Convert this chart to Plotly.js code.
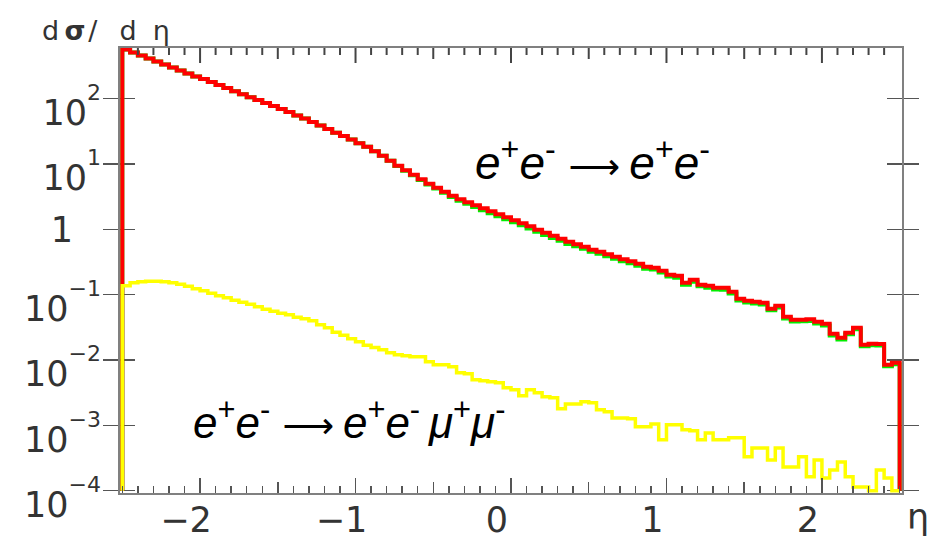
<!DOCTYPE html>
<html><head><meta charset="utf-8">
<script src="https://cdn.plot.ly/plotly-3.0.1.min.js"></script>
<style>html,body{margin:0;padding:0;background:#fff}#chart{width:931px;height:539px}</style>
</head><body><div id="chart"></div>
<script>
// ---- data (histograms of d sigma / d eta, 100 bins from -2.5 to 2.5) ----
const etaMin = -2.5;
const etaMax = 2.5;
const nBins = 100;
const histFloor = 1e-4;

// e+e- -> e+e- (red)
const eeRed = [562,506,455,410,369,332,299,269,242,217,
199,179,161,145,130,117,105,94.8,85.3,76.7,
69.0,62.1,55.0,49.4,43.7,38.6,34.1,30.1,26.7,23.6,
20.8,18.4,15.7,13.4,11.2,9.42,8.04,6.86,5.85,4.99,
4.34,3.77,3.27,2.89,2.60,2.34,2.10,1.89,1.70,1.53,
1.38,1.24,1.11,0.986,0.887,0.798,0.718,0.646,0.592,0.542,
0.488,0.454,0.416,0.381,0.348,0.325,0.297,0.267,0.258,0.232,
0.202,0.195,0.152,0.169,0.142,0.137,0.128,0.128,0.111,0.0865,
0.0807,0.0778,0.0752,0.0608,0.0676,0.0459,0.0413,0.0413,0.0420,0.0385,
0.0358,0.0252,0.0219,0.0261,0.0311,0.0171,0.0177,0.0175,0.00843,0.00906];

// e+e- -> e+e- (green)
const eeGreen = [562,506,455,410,369,332,299,269,242,217,
199,179,161,145,130,117,105,94.8,85.3,76.7,
69.0,62.1,55.0,49.4,43.7,38.6,34.1,30.1,26.7,23.6,
20.8,18.4,15.7,13.4,11.2,9.30,7.90,6.70,5.70,4.85,
4.20,3.62,3.12,2.74,2.45,2.19,1.96,1.76,1.58,1.42,
1.28,1.15,1.03,0.915,0.820,0.738,0.665,0.598,0.548,0.502,
0.452,0.421,0.386,0.353,0.323,0.302,0.276,0.250,0.242,0.218,
0.190,0.182,0.142,0.158,0.134,0.128,0.120,0.119,0.104,0.0815,
0.0760,0.0735,0.0705,0.0575,0.0635,0.0432,0.0388,0.0390,0.0395,0.0362,
0.0338,0.0238,0.0206,0.0248,0.0295,0.0162,0.0168,0.0166,0.0080,0.0086];

// e+e- -> e+e- mu+mu- (yellow)
const eeMuMu = [0.137,0.152,0.158,0.160,0.160,0.158,0.152,0.144,0.135,0.123,
0.115,0.105,0.0962,0.0897,0.0821,0.0766,0.0713,0.0653,0.0597,0.0557,
0.0519,0.0492,0.0451,0.0428,0.0398,0.0346,0.0311,0.0265,0.0239,0.0211,
0.0190,0.0168,0.0156,0.0143,0.0129,0.0120,0.0116,0.0112,0.0112,0.00938,
0.00843,0.00843,0.00787,0.00637,0.00615,0.00498,0.00480,0.00463,0.00448,0.00375,
0.00350,0.00283,0.00350,0.00315,0.00273,0.00264,0.00179,0.00213,0.00213,0.00229,
0.00221,0.00173,0.00161,0.00130,0.00130,0.00126,0.000948,0.000948,0.00105,0.000600,
0.00102,0.00102,0.000853,0.000824,0.000600,0.000767,0.000600,0.000600,0.000644,0.000644,
0.000330,0.000452,0.000452,0.000296,0.000452,0.000231,0.000231,0.000330,0.000163,0.000296,
0.000157,0.000208,0.000276,0.000163,0.000114,0.000114,0.0001,0.000208,0.000157,0.0001];

const sup = s => "10<sup><sup><span style='font-size:22px'>" + s + "</span></sup></sup>";
const yTickVals = [1e-4, 1e-3, 1e-2, 1e-1, 1, 10, 100];
const yTickText = [sup("−4"), sup("−3"), sup("−2"), sup("−1"), "", sup("1"), sup("2")];
const yUnitTick = [1];
const yUnitText = ["1"];
const xMajorTicks = [-2, -1, 0, 1, 2];
const xHalfTicks = [-1.5, -0.5, 0.5, 1.5];

// ---- build step outlines ----
const binW = (etaMax - etaMin) / nBins;
const edges = [];
for (let i = 0; i <= nBins; i++) edges.push(etaMin + i * binW);
function outline(vals) {
  const xs = [edges[0]], ys = [histFloor];
  for (let i = 0; i < vals.length; i++) { xs.push(edges[i]); ys.push(vals[i]); }
  xs.push(edges[nBins]); ys.push(vals[vals.length - 1]);
  xs.push(edges[nBins]); ys.push(histFloor);
  return {xs, ys};
}
const g = outline(eeGreen), r = outline(eeRed), yl = outline(eeMuMu);

const traces = [
  {x: g.xs, y: g.ys, mode: 'lines', line: {shape: 'hv', color: '#00ee00', width: 4}, hoverinfo: 'skip'},
  {x: r.xs, y: r.ys, mode: 'lines', line: {shape: 'hv', color: '#ff0000', width: 4}, hoverinfo: 'skip'},
  {x: yl.xs, y: yl.ys, mode: 'lines', line: {shape: 'hv', color: '#ffff00', width: 3.5}, hoverinfo: 'skip'},
  {x: [], y: [], xaxis: 'x2', yaxis: 'y', mode: 'lines'},
  {x: [], y: [], xaxis: 'x', yaxis: 'y2', mode: 'lines'}
];

const tickFont = {family: 'DejaVu Sans', size: 35, color: '#333'};
const xr = [-2.515, 2.515];
const yr = [-4.035, 2.774];
const tickCol = '#555';
const plotH = 539 - 48 - 46;

// top-edge tick marks (mirror of the bottom axis ticks)
const topTicks = [];
function addTop(v, len) {
  topTicks.push({type: 'line', xref: 'x', yref: 'paper', x0: v, x1: v, y0: 1, y1: 1 - len / plotH,
                 line: {color: '#444', width: 2}, layer: 'above'});
}
for (let k = 0; k <= 50; k++) {
  const v = Math.round((etaMin + 0.1 * k) * 10) / 10;
  if (Math.abs(v * 2 - Math.round(v * 2)) > 1e-9) addTop(v, 7);
}
xHalfTicks.forEach(v => addTop(v, 11));
xMajorTicks.forEach(v => addTop(v, 15));

const arrow = "<span style='font-family:DejaVu Sans;font-size:36px'>⟶</span>";
const layout = {
  width: 931, height: 539,
  margin: {l: 120, r: 29, t: 48, b: 46},
  paper_bgcolor: '#fff', plot_bgcolor: '#fff',
  showlegend: false,
  font: {family: 'DejaVu Sans', color: '#333'},
  xaxis: {
    range: xr, showgrid: false, zeroline: false,
    showline: true, linecolor: '#808080', linewidth: 2, mirror: true,
    ticks: 'inside', ticklen: 15, tickwidth: 1.5, tickcolor: tickCol,
    tick0: 0, dtick: 1,
    minor: {tick0: 0, dtick: 0.1, ticks: 'inside', ticklen: 7, tickwidth: 1.5, tickcolor: tickCol, showgrid: false},
    tickfont: tickFont, ticklabelshift: -14, ticklabelstandoff: -5, layer: 'above traces'
  },
  xaxis2: {
    overlaying: 'x', anchor: 'y', side: 'bottom', range: xr, showgrid: false, zeroline: false, showline: false,
    tickmode: 'array', tickvals: xHalfTicks, ticks: 'inside', ticklen: 11, tickwidth: 1.5, tickcolor: tickCol,
    showticklabels: false, layer: 'above traces'
  },
  yaxis: {
    type: 'log', range: yr, showgrid: false, zeroline: false,
    showline: true, linecolor: '#808080', linewidth: 2, mirror: 'allticks',
    ticks: 'inside', ticklen: 15, tickwidth: 1.5, tickcolor: tickCol,
    tickmode: 'array', tickvals: yTickVals, ticktext: yTickText,
    tickfont: tickFont, ticklabelshift: 14, ticklabelstandoff: 10, layer: 'below traces'
  },
  yaxis2: {
    type: 'log', overlaying: 'y', anchor: 'x', side: 'left', range: yr,
    showgrid: false, zeroline: false, showline: false, ticks: '',
    tickmode: 'array', tickvals: yUnitTick, ticktext: yUnitText, tickfont: tickFont, ticklabelstandoff: 46
  },
  shapes: topTicks,
  annotations: [
    {xref: 'paper', yref: 'paper', x: -0.102, y: 1.039, xanchor: 'left', yanchor: 'middle', showarrow: false,
     text: 'd\u2009<b>σ</b>\u200a/\u2002 d\u2002\u200aη', font: {family: 'DejaVu Sans', size: 27, color: '#333'}},
    {xref: 'paper', yref: 'paper', x: 1.0205, y: -0.053, xanchor: 'center', yanchor: 'middle', showarrow: false,
     text: 'η', font: {family: 'DejaVu Sans', size: 35, color: '#333'}},
    {xref: 'paper', yref: 'paper', x: 0.452, y: 0.748, xanchor: 'left', yanchor: 'middle', showarrow: false,
     text: '<i>e</i><sup>+</sup><i>e</i><sup>-</sup> ' + arrow + '\u2009<i>e</i><sup>+</sup><i>e</i><sup>-</sup>',
     font: {family: 'Liberation Sans', size: 46, color: '#000'}},
    {xref: 'paper', yref: 'paper', x: 0.0914, y: 0.166, xanchor: 'left', yanchor: 'middle', showarrow: false,
     text: '<i>e</i><sup>+</sup><i>e</i><sup>-</sup> ' + arrow + '\u2009<i>e</i><sup>+</sup><i>e</i><sup>-</sup>\u2009<i>μ</i><sup>+</sup><i>μ</i><sup>-</sup>',
     font: {family: 'Liberation Sans', size: 44, color: '#000'}}
  ]
};

Plotly.newPlot('chart', traces, layout, {displayModeBar: false, staticPlot: true});
</script>
</body></html>
